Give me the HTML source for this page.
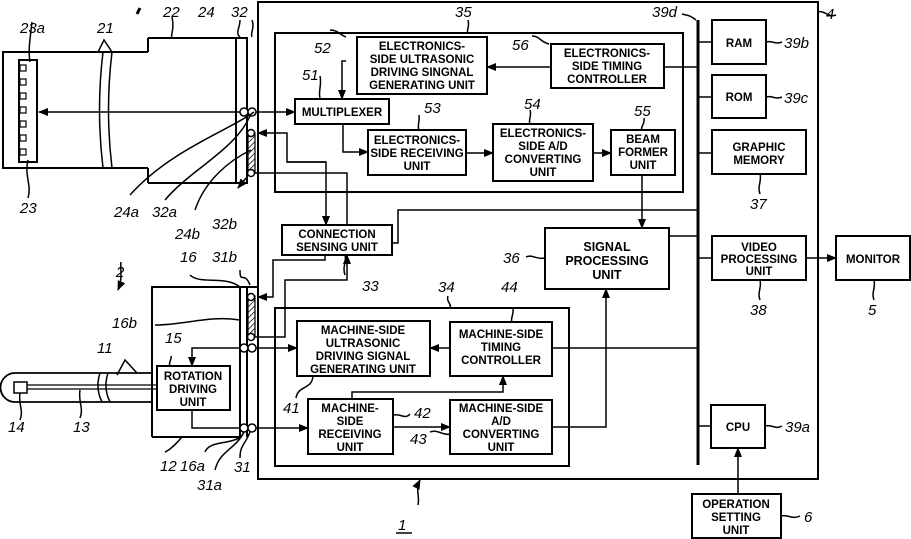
<!DOCTYPE html>
<html><head><style>
html,body{margin:0;padding:0;background:#fff;}
svg{display:block;}
.b{font-family:"Liberation Sans",sans-serif;font-weight:bold;font-size:11.5px;text-anchor:middle;fill:#000;}
.l{font-family:"Liberation Sans",sans-serif;font-style:italic;font-size:15px;fill:#000;}
</style></head><body>
<svg width="911" height="539" viewBox="0 0 911 539" xmlns="http://www.w3.org/2000/svg">
<defs><marker id="a" markerWidth="10" markerHeight="8" refX="9" refY="4" orient="auto" markerUnits="userSpaceOnUse"><path d="M0,0 L10,4 L0,8 z" fill="#000"/></marker>
<pattern id="h" width="4" height="4" patternUnits="userSpaceOnUse" patternTransform="rotate(45)"><line x1="0" y1="0" x2="0" y2="4" stroke="#000" stroke-width="1.5"/></pattern></defs>
<g fill="none" stroke="#000" stroke-width="2">
<rect x="258" y="2" width="560" height="477"/>
<rect x="275" y="33" width="408" height="159"/>
<rect x="275" y="308" width="294" height="158"/>
<line x1="698" y1="20" x2="698" y2="465" stroke-width="3"/>
<path d="M148,52 H3 V168 H148 M148,38 H248 M148,183 H248 M148,38 V52 M148,168 V183"/>
<path d="M103,52 Q96,110 103,168 M112,52 Q105,110 112,168" stroke-width="1.5"/>
<rect x="19" y="60" width="18" height="102"/>
<g stroke-width="1.2"><rect x="20" y="65" width="6" height="6"/><rect x="20" y="79" width="6" height="6"/><rect x="20" y="93" width="6" height="6"/><rect x="20" y="107" width="6" height="6"/><rect x="20" y="121" width="6" height="6"/><rect x="20" y="135" width="6" height="6"/><rect x="20" y="149" width="6" height="6"/></g>
<line x1="236" y1="38" x2="236" y2="183"/><line x1="247" y1="38" x2="247" y2="183"/>
<rect x="248" y="133" width="7" height="40" fill="url(#h)" stroke-width="1.2"/>
<path d="M152,437 V287 H258 M152,437 H240"/>
<line x1="240" y1="287" x2="240" y2="437"/><line x1="247" y1="287" x2="247" y2="437"/>
<rect x="248" y="296" width="7" height="41" fill="url(#h)" stroke-width="1.2"/>
<path d="M152,373 H15 A14,14 0 0 0 15,402 H152" stroke-width="1.8"/>
<path d="M100,373 Q95,388 102,402 M108,373 Q103,388 110,402" stroke-width="1.5" fill="#fff"/>
<path d="M27,385 H157 M27,389 H157" stroke-width="1.2"/>
<rect x="14" y="382" width="13" height="11" stroke-width="1.5"/>
<rect x="295" y="99" width="94" height="25"/>
<rect x="357" y="37" width="130" height="57"/>
<rect x="551" y="44" width="113" height="44"/>
<rect x="368" y="130" width="98" height="45"/>
<rect x="493" y="124" width="100" height="57"/>
<rect x="611" y="130" width="64" height="45"/>
<rect x="282" y="225" width="110" height="30"/>
<rect x="545" y="228" width="124" height="61"/>
<rect x="712" y="20" width="54" height="44"/>
<rect x="712" y="75" width="54" height="43"/>
<rect x="712" y="130" width="94" height="44"/>
<rect x="712" y="236" width="94" height="44"/>
<rect x="836" y="236" width="74" height="44"/>
<rect x="711" y="405" width="54" height="43"/>
<rect x="692" y="494" width="89" height="44"/>
<rect x="297" y="321" width="133" height="55"/>
<rect x="450" y="322" width="102" height="54"/>
<rect x="308" y="399" width="85" height="55"/>
<rect x="450" y="400" width="102" height="54"/>
<rect x="157" y="366" width="73" height="44"/>
</g>
<g fill="#fff" stroke="#000" stroke-width="1.5">
<circle cx="244" cy="112" r="4"/><circle cx="252" cy="112" r="4"/>
<circle cx="251" cy="133" r="3.5"/><circle cx="251" cy="173" r="3.5"/>
<circle cx="251" cy="297" r="3.5"/><circle cx="251" cy="337" r="3.5"/>
<circle cx="244" cy="348" r="4"/><circle cx="252" cy="348" r="4"/>
<circle cx="244" cy="428" r="4"/><circle cx="252" cy="428" r="4"/>
</g>
<g fill="none" stroke="#000" stroke-width="1.5">
<line x1="240" y1="112" x2="39" y2="112" marker-end="url(#a)"/>
<line x1="256" y1="112" x2="295" y2="112" marker-end="url(#a)"/>
<polyline points="346,61 342,61 342,99" marker-end="url(#a)"/>
<line x1="551" y1="67" x2="487" y2="67" marker-end="url(#a)"/>
<line x1="664" y1="67" x2="698" y2="67"/>
<polyline points="343,124 343,152 368,152" marker-end="url(#a)"/>
<line x1="466" y1="153" x2="493" y2="153" marker-end="url(#a)"/>
<line x1="593" y1="153" x2="611" y2="153" marker-end="url(#a)"/>
<line x1="642" y1="175" x2="642" y2="228" marker-end="url(#a)"/>
<polyline points="326,162 287,162 287,133 258,133" marker-end="url(#a)"/>
<polyline points="287,162 326,162 326,225" marker-end="url(#a)"/>
<polyline points="255,173 347,173 347,225"/>
<polyline points="392,243 398,243 398,210 698,210"/>
<polyline points="325,255 325,260 273,260 273,297 258,297" marker-end="url(#a)"/>
<polyline points="255,337 285,337 285,280 347,280 347,255" marker-end="url(#a)"/>
<line x1="669" y1="236" x2="698" y2="236"/>
<line x1="698" y1="42" x2="712" y2="42"/><line x1="698" y1="97" x2="712" y2="97"/>
<line x1="698" y1="153" x2="712" y2="153"/><line x1="698" y1="258" x2="712" y2="258"/>
<line x1="806" y1="258" x2="836" y2="258" marker-end="url(#a)"/>
<line x1="698" y1="426" x2="711" y2="426"/>
<line x1="738" y1="494" x2="738" y2="448" marker-end="url(#a)"/>
<polyline points="256,348 297,348" marker-end="url(#a)"/>
<polyline points="240,348 192,348 192,366" marker-end="url(#a)"/>
<polyline points="192,410 192,428 240,428"/>
<line x1="256" y1="428" x2="308" y2="428" marker-end="url(#a)"/>
<line x1="450" y1="348" x2="430" y2="348" marker-end="url(#a)"/>
<line x1="552" y1="348" x2="698" y2="348"/>
<polyline points="352,399 352,392 503,392 503,376" marker-end="url(#a)"/>
<line x1="393" y1="427" x2="450" y2="427" marker-end="url(#a)"/>
<polyline points="552,427 606,427 606,289" marker-end="url(#a)"/>
<path d="M254,112 C230,130 170,150 130,195"/>
<path d="M250,116 C235,150 190,170 165,200"/>
<path d="M251,150 C230,160 205,180 195,210"/>
<path d="M246,178 l-8,10" marker-end="url(#a)"/>
<path d="M32,22 C30,40 28,50 30,62"/><path d="M28,160 C24,175 32,185 28,198"/>
<path d="M98,52 l6,-12 l8,12" /><path d="M172,17 C175,30 170,35 172,38"/>
<path d="M240,20 C240,28 235,33 240,37"/><path d="M252,20 C255,28 250,33 252,37"/>
<path d="M346,37 C340,35 338,30 330,30 M320,76 C322,85 318,92 320,98"/>
<path d="M549,44 C540,42 540,36 532,36 M419,115 C420,122 417,125 419,130"/>
<path d="M530,110 C532,116 528,120 530,124 M644,118 C645,125 640,127 642,130"/>
<path d="M468,20 C470,27 466,30 468,33 M696,20 C690,15 686,15 682,14"/>
<path d="M818,12 C825,10 828,18 836,15 M766,42 C772,40 775,45 782,42 M766,97 C772,95 775,100 782,97"/>
<path d="M760,174 C762,182 757,186 760,194 M760,280 C762,288 757,292 760,300 M874,280 C876,288 871,292 874,300"/>
<path d="M545,258 C537,260 532,254 526,257 M345,255 C347,262 342,266 345,275"/>
<path d="M448,296 C446,302 452,304 450,308 M513,308 C514,316 510,318 512,322"/>
<path d="M765,426 C772,424 775,430 782,426 M781,516 C788,514 792,520 800,516"/>
<path d="M394,415 C400,413 405,420 410,414 M450,434 C443,436 438,429 430,432"/>
<path d="M313,376 C312,390 298,385 296,398"/>
<path d="M171,356 C172,360 168,362 170,366 M240,320 C210,315 185,325 155,325"/>
<path d="M240,437 C230,445 210,440 205,452 M244,432 C235,450 220,450 215,470 M250,432 C245,445 240,445 240,458"/>
<path d="M250,285 C244,270 240,285 240,270 M240,287 C225,275 200,285 190,275"/>
<path d="M182,437 C175,445 170,450 165,452 M117,375 l8,-15 l12,13 M20,393 C18,405 24,410 20,420 M80,390 C78,402 84,408 80,418"/>
<path d="M121,262 C120,270 123,278 118,290" marker-end="url(#a)"/>
<path d="M418,505 C420,495 415,490 420,480" marker-end="url(#a)"/>
<path d="M140,8 l-3,6" stroke-width="3"/>
</g>
<g class="b">
<text x="342" y="116">MULTIPLEXER</text>
<text x="422" y="50">ELECTRONICS-</text><text x="422" y="63">SIDE ULTRASONIC</text><text x="422" y="76">DRIVING SINGNAL</text><text x="422" y="89">GENERATING UNIT</text>
<text x="607" y="57">ELECTRONICS-</text><text x="607" y="70">SIDE TIMING</text><text x="607" y="83">CONTROLLER</text>
<text x="417" y="144">ELECTRONICS-</text><text x="417" y="157">SIDE RECEIVING</text><text x="417" y="170">UNIT</text>
<text x="543" y="137">ELECTRONICS-</text><text x="543" y="150">SIDE A/D</text><text x="543" y="163">CONVERTING</text><text x="543" y="176">UNIT</text>
<text x="643" y="143">BEAM</text><text x="643" y="156">FORMER</text><text x="643" y="169">UNIT</text>
<text x="337" y="238">CONNECTION</text><text x="337" y="251">SENSING UNIT</text>
<text x="607" y="251" style="font-size:12.5px">SIGNAL</text><text x="607" y="265" style="font-size:12.5px">PROCESSING</text><text x="607" y="279" style="font-size:12.5px">UNIT</text>
<text x="739" y="47">RAM</text><text x="739" y="101">ROM</text>
<text x="759" y="151">GRAPHIC</text><text x="759" y="164">MEMORY</text>
<text x="759" y="251">VIDEO</text><text x="759" y="263">PROCESSING</text><text x="759" y="275">UNIT</text>
<text x="873" y="263">MONITOR</text><text x="738" y="431">CPU</text>
<text x="736" y="508">OPERATION</text><text x="736" y="521">SETTING</text><text x="736" y="534">UNIT</text>
<text x="363" y="334">MACHINE-SIDE</text><text x="363" y="347">ULTRASONIC</text><text x="363" y="360">DRIVING SIGNAL</text><text x="363" y="373">GENERATING UNIT</text>
<text x="501" y="338">MACHINE-SIDE</text><text x="501" y="351">TIMING</text><text x="501" y="364">CONTROLLER</text>
<text x="350" y="412">MACHINE-</text><text x="350" y="425">SIDE</text><text x="350" y="438">RECEIVING</text><text x="350" y="451">UNIT</text>
<text x="501" y="412">MACHINE-SIDE</text><text x="501" y="425">A/D</text><text x="501" y="438">CONVERTING</text><text x="501" y="451">UNIT</text>
<text x="193" y="380">ROTATION</text><text x="193" y="393">DRIVING</text><text x="193" y="406">UNIT</text>
</g>
<g class="l">
<text x="20" y="33">23a</text><text x="97" y="33">21</text><text x="163" y="17">22</text><text x="198" y="17">24</text><text x="231" y="17">32</text>
<text x="20" y="213">23</text><text x="114" y="217">24a</text><text x="152" y="217">32a</text><text x="175" y="239">24b</text><text x="212" y="229">32b</text>
<text x="180" y="262">16</text><text x="212" y="262">31b</text><text x="116" y="277">2</text>
<text x="112" y="328">16b</text><text x="165" y="343">15</text><text x="97" y="353">11</text>
<text x="8" y="432">14</text><text x="73" y="432">13</text>
<text x="160" y="471">12</text><text x="180" y="471">16a</text><text x="197" y="490">31a</text><text x="234" y="472">31</text>
<text x="455" y="17">35</text><text x="314" y="53">52</text><text x="302" y="80">51</text><text x="424" y="113">53</text><text x="524" y="109">54</text><text x="634" y="116">55</text><text x="512" y="50">56</text>
<text x="652" y="17">39d</text><text x="826" y="19">4</text><text x="784" y="48">39b</text><text x="784" y="103">39c</text>
<text x="750" y="209">37</text><text x="750" y="315">38</text><text x="868" y="315">5</text>
<text x="503" y="263">36</text><text x="362" y="291">33</text><text x="438" y="292">34</text><text x="501" y="292">44</text>
<text x="283" y="413">41</text><text x="414" y="418">42</text><text x="410" y="444">43</text>
<text x="785" y="432">39a</text><text x="804" y="522">6</text><text x="398" y="530">1</text>
</g>
<line x1="396" y1="533" x2="412" y2="533" stroke="#000" stroke-width="1.5"/>
</svg>
</body></html>
